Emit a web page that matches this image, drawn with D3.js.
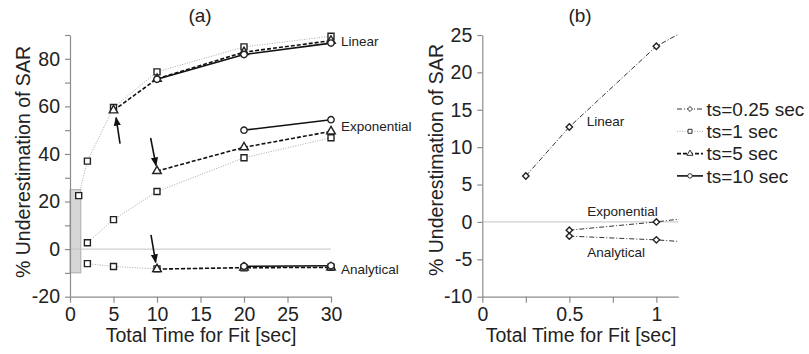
<!DOCTYPE html>
<html>
<head>
<meta charset="utf-8">
<script src="https://cdn.jsdelivr.net/npm/d3@7"></script>
<style>
  body { margin: 0; background: #fff; }
  svg { font-family: "Liberation Sans", Arial, sans-serif; }
</style>
</head>
<body>
<div id="chart"></div>
<script>
// Panel (a): total time for fit [sec] vs % underestimation
const linearTs1 = [[1, 22.5], [2, 37], [5, 59.5], [10, 74.5], [20, 85], [30, 89.5]];
const expTs1 = [[2, 2.7], [5, 12.4], [10, 24.2], [20, 38.4], [30, 46.8]];
const analTs1 = [[2, -6.1], [5, -7.3], [10, -8.3], [20, -7.9], [30, -7.6]];

const linearTs5 = [[5, 58.3], [10, 71.6], [20, 82.8], [30, 87.6]];
const expTs5 = [[10, 32.8], [20, 42.8], [30, 49.5]];
const analTs5 = [[10, -8.4], [20, -7.8], [30, -7.7]];

const linearTs10 = [[10, 71.4], [20, 81.8], [30, 86.6]];
const expTs10 = [[20, 50], [30, 54.4]];
const analTs10 = [[20, -7.2], [30, -7]];

// Panel (b): ts = 0.25 sec (last point lies beyond the axis and is clipped)
const linearTs025 = [[0.25, 6.15], [0.5, 12.7], [1, 23.5], [2, 36.2]];
const expTs025 = [[0.5, -1.1], [1, 0], [2, 2.9]];
const analTs025 = [[0.5, -1.9], [1, -2.4], [2, -4.0]];

const ticksAx = [0, 5, 10, 15, 20, 25, 30];
const ticksAy = [-20, -10, 0, 10, 20, 30, 40, 50, 60, 70, 80, 90];
const ticksBx = [0, 0.25, 0.5, 0.75, 1];
const ticksBy = [-10, -5, 0, 5, 10, 15, 20, 25];

const shadeX = [0, 1.25], shadeY = [-10, 25];

const legendLabels = ["ts=0.25 sec", "ts=1 sec", "ts=5 sec", "ts=10 sec"];

const width = 809, height = 354;
const svg = d3.select("#chart").append("svg")
    .attr("width", width).attr("height", height);

const defs = svg.append("defs");
defs.append("marker")
    .attr("id", "arrow")
    .attr("viewBox", "0 0 10 10")
    .attr("refX", 9).attr("refY", 5)
    .attr("markerWidth", 9).attr("markerHeight", 9)
    .attr("markerUnits", "userSpaceOnUse")
    .attr("orient", "auto")
    .append("path").attr("d", "M0,1 L10,5 L0,9 Z").attr("fill", "#111");

// styles per ts
const styles = {
    ts025: { stroke: "#333", dash: "5,2,1,2", width: 1, shape: d3.symbolDiamond2 },
    ts1:   { stroke: "#aaa", dash: "1,1.5", width: 1, shape: d3.symbolSquare },
    ts5:   { stroke: "#111", dash: "4,2", width: 1.6, shape: d3.symbolTriangle },
    ts10:  { stroke: "#111", dash: null, width: 1.6, shape: d3.symbolCircle }
};

function drawAxes(g, x, y, xt, yt, xLabelEvery, yLabelEvery) {
    const xa = g.append("g")
        .attr("transform", `translate(0,${y.range()[0]})`)
        .call(d3.axisBottom(x).tickValues(xt).tickSize(6).tickPadding(4)
            .tickSizeOuter(0)
            .tickFormat(d => xLabelEvery(d) ? d3.format("")(d) : ""));
    const ya = g.append("g")
        .attr("transform", `translate(${x.range()[0]},0)`)
        .call(d3.axisLeft(y).tickValues(yt).tickSize(5).tickPadding(5)
            .tickSizeOuter(0)
            .tickFormat(d => yLabelEvery(d) ? d : ""));
    [xa, ya].forEach(a => {
        a.select(".domain").attr("stroke", "#8c8c8c").attr("stroke-width", 1.2);
        a.selectAll(".tick line").attr("stroke", "#8c8c8c").attr("stroke-width", 1.2);
        a.selectAll(".tick text").attr("fill", "#222").style("font-size", "19.5px");
    });
}

function drawSeries(g, x, y, data, st, size) {
    const line = d3.line().x(d => x(d[0])).y(d => y(d[1]));
    g.append("path")
        .datum(data)
        .attr("d", line)
        .attr("fill", "none")
        .attr("stroke", st.stroke)
        .attr("stroke-width", st.width)
        .attr("stroke-dasharray", st.dash);
    g.selectAll(null)
        .data(data)
        .join("path")
        .attr("transform", d => `translate(${x(d[0])},${y(d[1])})`)
        .attr("d", d3.symbol().type(st.shape).size(size))
        .attr("fill", "white")
        .attr("stroke", "#222")
        .attr("stroke-width", 1.4);
}

// ---------- Panel (a) ----------
const xA = d3.scaleLinear().domain([0, 30]).range([70, 331]);
const yA = d3.scaleLinear().domain([-20, 90]).range([296.7, 35]);
const gA = svg.append("g");

gA.append("rect")
    .attr("x", xA(shadeX[0])).attr("y", yA(shadeY[1]))
    .attr("width", xA(shadeX[1]) - xA(shadeX[0]))
    .attr("height", yA(shadeY[0]) - yA(shadeY[1]))
    .attr("fill", "#d6d6d6").attr("stroke", "#a0a0a0").attr("stroke-width", 0.8);

gA.append("line")
    .attr("x1", xA(0)).attr("x2", xA(30))
    .attr("y1", yA(0)).attr("y2", yA(0))
    .attr("stroke", "#c4c4c4").attr("stroke-width", 1);

drawAxes(gA, xA, yA, ticksAx, ticksAy, () => true, d => d % 20 === 0);

[linearTs1, expTs1, analTs1].forEach(s => drawSeries(gA, xA, yA, s, styles.ts1, 36));
[linearTs5, expTs5, analTs5].forEach(s => drawSeries(gA, xA, yA, s, styles.ts5, 32));
[linearTs10, expTs10, analTs10].forEach(s => drawSeries(gA, xA, yA, s, styles.ts10, 32));

// arrows (from, to) in data units
const arrowsA = [
    [[5.75, 44.3], [5.3, 55.3]],
    [[9.27, 46.7], [9.89, 35.1]],
    [[9.31, 6.0], [9.85, -5.6]]
];
gA.selectAll(".arrow")
    .data(arrowsA)
    .join("line")
    .attr("class", "arrow")
    .attr("x1", d => xA(d[0][0])).attr("y1", d => yA(d[0][1]))
    .attr("x2", d => xA(d[1][0])).attr("y2", d => yA(d[1][1]))
    .attr("stroke", "#111").attr("stroke-width", 1.6)
    .attr("marker-end", "url(#arrow)");

const labelsA = [["Linear", 87.4], ["Exponential", 51.6], ["Analytical", -8.4]];
gA.selectAll(".lab")
    .data(labelsA)
    .join("text")
    .attr("class", "lab")
    .attr("x", xA(30) + 10)
    .attr("y", d => yA(d[1]))
    .attr("dy", "0.35em")
    .style("font-size", "13.5px")
    .attr("fill", "#222")
    .text(d => d[0]);

gA.append("text")
    .attr("x", 200).attr("y", 22)
    .attr("text-anchor", "middle")
    .style("font-size", "19px").attr("fill", "#222")
    .text("(a)");

gA.append("text")
    .attr("x", 201).attr("y", 342)
    .attr("text-anchor", "middle")
    .style("font-size", "19.5px").attr("fill", "#222")
    .text("Total Time for Fit [sec]");

gA.append("text")
    .attr("transform", "translate(30,162) rotate(-90)")
    .attr("text-anchor", "middle")
    .style("font-size", "19.5px").attr("fill", "#222")
    .text("% Underestimation of SAR");

// ---------- Panel (b) ----------
const xB = d3.scaleLinear().domain([0, 1.126]).range([482.3, 678.3]);
const yB = d3.scaleLinear().domain([-10, 25]).range([296.7, 35]);
const gB = svg.append("g");

defs.append("clipPath").attr("id", "clipB")
    .append("rect")
    .attr("x", xB(0)).attr("y", yB(25) - 2)
    .attr("width", xB(1.126) - xB(0) + 0.5)
    .attr("height", yB(-10) - yB(25) + 2);

gB.append("line")
    .attr("x1", xB(0)).attr("x2", xB(1.126))
    .attr("y1", yB(0)).attr("y2", yB(0))
    .attr("stroke", "#c4c4c4").attr("stroke-width", 1);

drawAxes(gB, xB, yB, ticksBx, ticksBy, d => d % 0.5 === 0, () => true);

const plotB = gB.append("g").attr("clip-path", "url(#clipB)");
[linearTs025, expTs025, analTs025].forEach(s => drawSeries(plotB, xB, yB, s, styles.ts025, 26));

const labelsB = [["Linear", 0.6, 13.4], ["Exponential", 0.603, 1.47], ["Analytical", 0.603, -4.1]];
gB.selectAll(".lab")
    .data(labelsB)
    .join("text")
    .attr("class", "lab")
    .attr("x", d => xB(d[1]))
    .attr("y", d => yB(d[2]))
    .attr("dy", "0.35em")
    .style("font-size", "13.5px")
    .attr("fill", "#222")
    .text(d => d[0]);

gB.append("text")
    .attr("x", 580).attr("y", 22)
    .attr("text-anchor", "middle")
    .style("font-size", "19px").attr("fill", "#222")
    .text("(b)");

gB.append("text")
    .attr("x", 581).attr("y", 342)
    .attr("text-anchor", "middle")
    .style("font-size", "19.5px").attr("fill", "#222")
    .text("Total Time for Fit [sec]");

gB.append("text")
    .attr("transform", "translate(443,160) rotate(-90)")
    .attr("text-anchor", "middle")
    .style("font-size", "19.5px").attr("fill", "#222")
    .text("% Underestimation of SAR");

// ---------- Legend ----------
const legendStyles = [styles.ts025, styles.ts1, styles.ts5, styles.ts10];
const leg = svg.append("g").attr("transform", "translate(677,109)");
const rows = leg.selectAll("g")
    .data(legendLabels)
    .join("g")
    .attr("transform", (d, i) => `translate(0,${i * 22.3})`);
rows.append("line")
    .attr("x1", 0).attr("x2", 26)
    .attr("stroke", (d, i) => legendStyles[i].stroke)
    .attr("stroke-width", (d, i) => legendStyles[i].width)
    .attr("stroke-dasharray", (d, i) => legendStyles[i].dash);
rows.append("path")
    .attr("transform", "translate(13,0)")
    .attr("d", (d, i) => d3.symbol().type(legendStyles[i].shape).size(16)())
    .attr("fill", "white").attr("stroke", "#333").attr("stroke-width", 1);
rows.append("text")
    .attr("x", 29.5).attr("dy", "0.35em")
    .style("font-size", "19px").attr("fill", "#222")
    .text(d => d);
</script>
</body>
</html>
